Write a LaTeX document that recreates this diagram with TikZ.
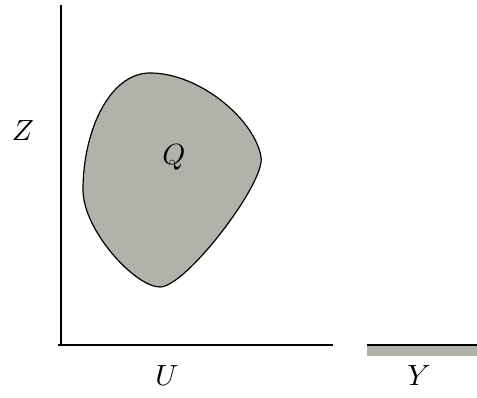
\documentclass[tikz,border=0pt]{standalone}
\usepackage{xcolor}
\usepackage{tikz}
\usetikzlibrary{positioning, calc}
\definecolor{qFill}{HTML}{B3B2AA}
\tikzset{
  q-axis/.style={line width=0.8pt, draw=black},
  q-region/.style={fill=qFill, draw=black, line width=0.45pt},
  q-label/.style={font=\fontsize{11}{13}\selectfont, inner sep=0pt},
}
\begin{document}
\begin{tikzpicture}[x=0.375pt, y=-0.375pt]
  \useasboundingbox (0,0) rectangle (477,398);

  % axes
  \coordinate (top) at (61,5);
  \coordinate (orig) at (61,345);
  \coordinate (xend) at (333,345);
  \draw[q-axis] (top) -- (orig);
  \draw[q-axis] ($(orig)+(-3,0)$) -- (xend);

  % region Q
  \coordinate (qn) at (150,73);
  \coordinate (qe) at (261,157);
  \coordinate (qs) at (160,287);
  \coordinate (qw) at (83,190);
  \draw[q-region] (qn) .. controls (200,73) and (255,120) .. (qe)
    .. controls (266,182) and (186,287) .. (qs)
    .. controls (135,287) and (83,230) .. (qw)
    .. controls (83,130) and (110,73) .. (qn) -- cycle;

  % bar for Y
  \fill[qFill] (367,345) rectangle (477,356);
  \coordinate (ybarL) at (367,345);
  \coordinate (ybarR) at (477,345);
  \draw[line width=0.6pt] (ybarL) -- (ybarR);

  % labels
  \node[q-label] (zlab) at (23,131) {$Z$};
  \node[q-label] (ulab) at (167,376) {$U$};
  \node[q-label] (qlab) at (174,157) {$Q$};
  \node[q-label] (ylab) at (419,376) {$Y$};
\end{tikzpicture}
\end{document}
